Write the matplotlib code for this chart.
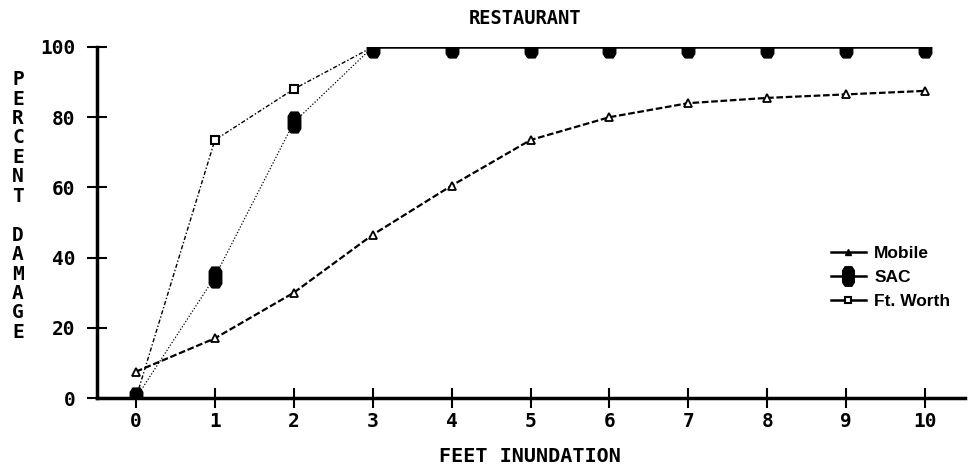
import numpy as np
import matplotlib
matplotlib.use("Agg")
import matplotlib.pyplot as plt
from matplotlib.lines import Line2D

# ---- data ----
feet = [0, 1, 2, 3, 4, 5, 6, 7, 8, 9, 10]
mobile = [7.5, 17, 30, 46.5, 60.5, 73.5, 80, 84, 85.5, 86.5, 87.5]
sac = [0, 34.5, 78.5, 100, 100, 100, 100, 100, 100, 100, 100]
ft_worth = [0, 73.5, 88, 100, 100, 100, 100, 100, 100, 100, 100]
series_names = ["Mobile", "SAC", "Ft. Worth"]
xticks = list(range(0, 11))
yticks = [0, 20, 40, 60, 80, 100]
title = "RESTAURANT"
xlabel = "FEET INUNDATION"
ylabel = "PERCENT DAMAGE"

mono = ["DejaVu Sans Mono"]
sansb = ["Liberation Sans", "DejaVu Sans"]

fig = plt.figure(figsize=(9.71, 4.75), dpi=100)
ax = fig.add_axes([96.5 / 971, 1 - 398 / 475, (964.5 - 96.5) / 971, 351 / 475])

hexv = [(-0.35, -1), (0.35, -1), (0.6, -0.6), (0.6, 0.6), (0.35, 1),
        (-0.35, 1), (-0.6, 0.6), (-0.6, -0.6), (-0.35, -1)]

x = np.array(feet, dtype=float)
s = np.array(sac, dtype=float)
f = np.array(ft_worth, dtype=float)

ax.plot(x, mobile, color="black", lw=1.6, ls=(0, (3, 1.2)), marker="^",
        mfc="white", mec="black", ms=6, mew=1.3, zorder=3)
ax.plot(x, f, color="black", lw=1.0, ls=(0, (3, 1.5, 1, 1.5)), marker="s",
        mfc="white", mec="black", ms=6, mew=1.5, zorder=3)
ax.plot(x, s, color="black", lw=0.9, ls=(0, (1, 1.5)), marker=hexv,
        mfc="black", mec="black", ms=15, zorder=4)
overlap = np.where(s == f, s, np.nan)
ax.plot(x, overlap, color="black", lw=1.8, ls="-", zorder=2)

ax.set_xlim(-0.5, 10.5)
ax.set_ylim(0, 100)
ax.set_xticks(xticks)
ax.set_yticks(yticks)
ax.set_xticklabels([str(t) for t in xticks], family=mono, fontweight="bold", fontsize=14)
ax.set_yticklabels([str(t) for t in yticks], family=mono, fontweight="bold", fontsize=14)
ax.tick_params(axis="both", direction="inout", length=14, width=1.5, color="black")
ax.tick_params(axis="x", pad=3)
ax.tick_params(axis="y", pad=8)
for sp in ["top", "right"]:
    ax.spines[sp].set_visible(False)
for sp in ["left", "bottom"]:
    ax.spines[sp].set_linewidth(2.5)
ax.spines["bottom"].set_bounds(-0.5, 10.5)

fig.text(525 / 971, 1 - 18 / 475, title, ha="center", va="center",
         family=mono, fontweight="bold", fontsize=13.5)
fig.text(530 / 971, 1 - 456 / 475, xlabel, ha="center", va="center",
         family=mono, fontweight="bold", fontsize=14.5)
fig.text(18 / 971, 1 - 206 / 475, "\n".join(ylabel), ha="center", va="center",
         family=mono, fontweight="bold", fontsize=14, linespacing=1.03)

handles = [
    Line2D([], [], color="black", lw=1.8, marker="^", mfc="black", mec="black", ms=5),
    Line2D([], [], color="black", lw=1.8, marker=hexv, mfc="black", mec="black", ms=14),
    Line2D([], [], color="black", lw=1.8, marker="s", mfc="white", mec="black", ms=5, mew=1.5),
]
leg = ax.legend(handles, series_names, loc="upper left", bbox_to_anchor=(0.838, 0.452),
                frameon=False, handlelength=2.0, handletextpad=0.5, labelspacing=0.5,
                borderaxespad=0, prop={"family": sansb, "weight": "bold", "size": 12.5})

fig.savefig("out.png", dpi=100)
